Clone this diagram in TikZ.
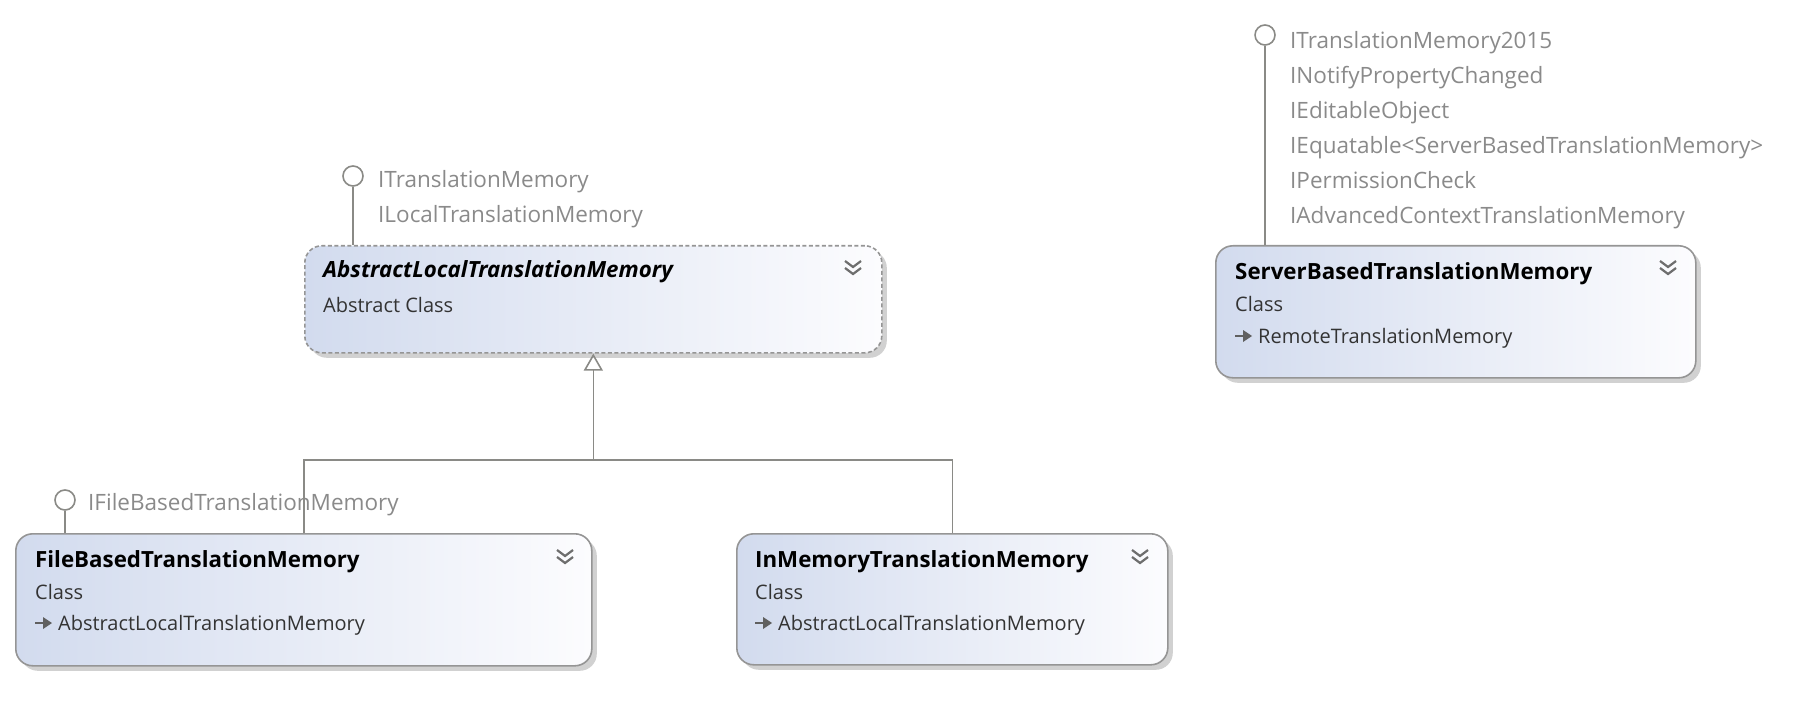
\documentclass[tikz,border=0pt]{standalone}
\usepackage{fontspec}
\setmainfont{Open Sans}
\usetikzlibrary{arrows.meta,shadows,calc}
\definecolor{ifacegray}{HTML}{8A8A8A}
\definecolor{linegray}{HTML}{8A8A86}
\definecolor{boxborder}{HTML}{959595}
\definecolor{boxleft}{HTML}{D2DBEE}
\definecolor{boxright}{HTML}{FCFCFE}
\definecolor{boxtext}{HTML}{333333}
\definecolor{chevgray}{HTML}{6E6E6E}
\definecolor{icongray}{HTML}{606060}
\begin{document}
\begin{tikzpicture}[x=1pt,y=-1pt,
  classbox/.style={draw=boxborder, line width=1.6pt, rounded corners=17pt,
    left color=boxleft, right color=boxright, anchor=north west, inner sep=0pt,
    drop shadow={shadow xshift=5pt, shadow yshift=-5pt, fill=black!18, opacity=1}},
  abstractbox/.style={classbox, dash pattern=on 4pt off 2.5pt},
  iface/.style={anchor=mid west, text=ifacegray, inner sep=0pt, font=\fontsize{22.5}{27}\selectfont},
  titletext/.style={anchor=mid west, inner sep=0pt, text=black, font=\fontsize{22.3}{27}\selectfont\bfseries},
  btext/.style={anchor=mid west, inner sep=0pt, text=boxtext, font=\fontsize{20}{24}\selectfont},
  lolli/.style={circle, draw=linegray, line width=1.6pt, fill=white, minimum size=20pt, inner sep=0pt},
  conn/.style={draw=linegray, line width=1.6pt},
  chevline/.style={draw=chevgray, line width=2.2pt},
  chev/.pic={\draw[chevline] (-8,-7) -- (0,-1) -- (8,-7);
             \draw[chevline] (-8,0) -- (0,6) -- (8,0);},
  baseicon/.pic={\draw[icongray, line width=2.6pt] (0,0) -- (10,0);
                 \fill[icongray] (8,-6) -- (17,0) -- (8,6) -- cycle;}
]
\useasboundingbox (0,0) rectangle (1806,703);

% ---------- boxes ----------
\node[abstractbox, minimum width=577pt, minimum height=107pt] (abs) at (304,245) {};
\node[classbox, minimum width=576pt, minimum height=132pt] (fb) at (15,533) {};
\node[classbox, minimum width=431pt, minimum height=131pt] (im) at (736,533) {};
\node[classbox, minimum width=480pt, minimum height=132pt] (srv) at (1215,245) {};

% ---------- box contents ----------
\node[titletext, font=\fontsize{22.3}{27}\selectfont\bfseries\itshape] (absT) at (323,275) {AbstractLocalTranslationMemory};
\node[btext] (absK) at (323,310) {Abstract Class};
\pic at (853,268) {chev};

\node[titletext] (fbT) at (35,565) {FileBasedTranslationMemory};
\node[btext] (fbK) at (35,597) {Class};
\pic at (35,623) {baseicon};
\node[btext] (fbB) at (58,628) {AbstractLocalTranslationMemory};
\pic at (565,557) {chev};

\node[titletext] (imT) at (755,565) {InMemoryTranslationMemory};
\node[btext] (imK) at (755,597) {Class};
\pic at (755,623) {baseicon};
\node[btext] (imB) at (778,628) {AbstractLocalTranslationMemory};
\pic at (1140,557) {chev};

\node[titletext] (srvT) at (1235,277) {ServerBasedTranslationMemory};
\node[btext] (srvK) at (1235,309) {Class};
\pic at (1235,336) {baseicon};
\node[btext] (srvB) at (1258,341) {RemoteTranslationMemory};
\pic at (1668,268) {chev};

% ---------- interfaces ----------
\node[lolli] (absL) at (353,176) {};
\node[iface] (absI1) at (378,185) {ITranslationMemory};
\node[iface] (absI2) at (378,220) {ILocalTranslationMemory};
\draw[conn] (absL) -- (absL |- abs.north);

\node[lolli] (fbL) at (65,500) {};
\node[iface] (fbI1) at (88,508) {IFileBasedTranslationMemory};
\draw[conn] (fbL) -- (fbL |- fb.north);

\node[lolli] (srvL) at (1265,35) {};
\node[iface] (srvI1) at (1290,46) {ITranslationMemory2015};
\node[iface] (srvI2) at (1290,81) {INotifyPropertyChanged};
\node[iface] (srvI3) at (1290,116) {IEditableObject};
\node[iface] (srvI4) at (1290,151) {IEquatable<ServerBasedTranslationMemory>};
\node[iface] (srvI5) at (1290,186) {IPermissionCheck};
\node[iface] (srvI6) at (1290,221) {IAdvancedContextTranslationMemory};
\draw[conn] (srvL) -- (srvL |- srv.north);

% ---------- inheritance ----------
\coordinate (bus) at (abs.south |- 0,460);
\draw[conn] (abs.west |- fb.north) |- (bus);
\draw[conn] (im.north) |- (bus);
\draw[conn, -{Triangle[open, length=17pt, width=19pt]}] (bus) -- (abs.south);
\end{tikzpicture}
\end{document}
